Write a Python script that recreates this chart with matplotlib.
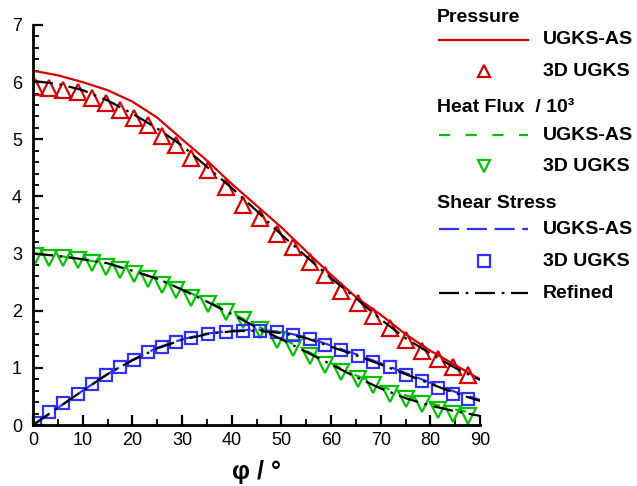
import numpy as np
import matplotlib
matplotlib.use('Agg')
import matplotlib.pyplot as plt
from matplotlib.lines import Line2D

plt.rcParams['font.family'] = ['Liberation Sans', 'DejaVu Sans']

# Marker positions (deg) of the 3D UGKS data
phi_pts = [0.4, 3.3, 6.1, 9.0, 11.8, 14.6, 17.5, 20.3, 23.1, 25.9, 28.7, 31.9, 35.3, 38.9,
           42.2, 45.7, 49.1, 52.4, 55.8, 58.8, 62.1, 65.5, 68.5, 71.9, 75.2, 78.3, 81.6, 84.6, 87.6]
p_ugks = [5.92, 5.89, 5.86, 5.82, 5.73, 5.64, 5.51, 5.38, 5.25, 5.06, 4.90, 4.67, 4.46, 4.17,
          3.85, 3.63, 3.35, 3.12, 2.86, 2.63, 2.35, 2.13, 1.91, 1.69, 1.49, 1.30, 1.15, 1.01, 0.88]
q_ugks = [2.95, 2.93, 2.92, 2.88, 2.83, 2.77, 2.71, 2.64, 2.55, 2.45, 2.36, 2.22, 2.11, 1.97,
          1.84, 1.66, 1.49, 1.34, 1.20, 1.05, 0.93, 0.80, 0.70, 0.55, 0.45, 0.36, 0.27, 0.20, 0.16]
s_ugks = [0.03, 0.22, 0.38, 0.55, 0.71, 0.88, 1.01, 1.14, 1.27, 1.37, 1.46, 1.52, 1.60, 1.63,
          1.65, 1.65, 1.63, 1.58, 1.51, 1.40, 1.31, 1.21, 1.10, 1.01, 0.88, 0.77, 0.65, 0.54, 0.45]

# Line data (UGKS-AS and refined)
phi_line = [0, 5, 10, 15, 20, 25, 30, 35, 40, 45, 50, 55, 60, 65, 70, 75, 80, 85, 90]
p_as = [6.20, 6.12, 6.00, 5.86, 5.66, 5.38, 5.00, 4.63, 4.22, 3.84, 3.46, 3.04, 2.63, 2.24,
        1.93, 1.59, 1.30, 1.05, 0.80]
q_as = [3.00, 2.96, 2.90, 2.82, 2.70, 2.56, 2.38, 2.17, 1.96, 1.74, 1.52, 1.30, 1.08, 0.87,
        0.68, 0.52, 0.38, 0.27, 0.19]
s_as = [0.00, 0.30, 0.60, 0.89, 1.14, 1.35, 1.50, 1.60, 1.65, 1.67, 1.63, 1.54, 1.39, 1.24,
        1.08, 0.91, 0.74, 0.58, 0.44]
p_ref = [6.02, 5.97, 5.86, 5.68, 5.45, 5.19, 4.89, 4.52, 4.15, 3.75, 3.33, 2.95, 2.57, 2.22,
         1.85, 1.52, 1.25, 1.00, 0.79]
q_ref = [3.00, 2.96, 2.90, 2.83, 2.70, 2.56, 2.37, 2.16, 1.94, 1.71, 1.50, 1.28, 1.06, 0.84,
         0.64, 0.47, 0.34, 0.24, 0.16]
s_ref = [0.00, 0.30, 0.60, 0.89, 1.13, 1.34, 1.49, 1.59, 1.64, 1.65, 1.61, 1.52, 1.37, 1.22,
         1.06, 0.89, 0.72, 0.56, 0.42]

red = '#d40000'
green = '#00c000'
blue = '#3030ff'

ls_green = (0, (5, 7))
ls_blue = (0, (9, 3.5))
ls_black = (0, (9, 3, 1.2, 3))

fig = plt.figure(figsize=(6.37, 4.86), dpi=100)
ax = fig.add_axes([33/637, 1-425/486, 447/637, 400/486])

lw = 1.6
ax.plot(phi_line, p_as, c=red, lw=lw)
ax.plot(phi_line, q_as, c=green, lw=lw, ls=ls_green)
ax.plot(phi_line, s_as, c=blue, lw=lw, ls=ls_blue)
ax.plot(phi_pts, p_ugks, ls='none', marker='^', ms=11, mfc='none', mec=red, mew=1.6)
ax.plot(phi_pts, q_ugks, ls='none', marker='v', ms=11, mfc='none', mec=green, mew=1.6)
ax.plot(phi_pts, s_ugks, ls='none', marker='s', ms=9, mfc='none', mec=blue, mew=1.6)
for yv in (p_ref, q_ref, s_ref):
    ax.plot(phi_line, yv, c='k', lw=lw, ls=ls_black)

ax.set_xlim(0, 90)
ax.set_ylim(0, 7)
ax.set_xticks(np.arange(0, 91, 10))
ax.set_xticks(np.arange(0, 91, 5), minor=True)
ax.set_yticks(np.arange(0, 8, 1))
ax.set_yticks(np.arange(0, 7.01, 0.2), minor=True)
ax.spines['top'].set_visible(False)
ax.spines['right'].set_visible(False)
for s in ('left', 'bottom'):
    ax.spines[s].set_linewidth(2)
ax.tick_params(which='major', direction='in', length=7, width=1.6, labelsize=13)
ax.tick_params(which='minor', direction='in', length=4, width=1.3)
ax.tick_params(axis='y', which='major', pad=8)
ax.tick_params(axis='x', which='major', pad=5)
ax.set_xlabel('φ / °', fontsize=18, fontweight='bold', labelpad=8)

# legend panel
lax = fig.add_axes([0, 0, 1, 1])
lax.set_xlim(0, 637)
lax.set_ylim(486, 0)
lax.axis('off')
x0, x1, xm, xt = 439, 528, 484, 543
fs = 14
lax.text(437, 18, 'Pressure', fontsize=fs, fontweight='bold', va='center')
lax.add_line(Line2D([x0, x1], [40, 40], c=red, lw=lw))
lax.text(xt, 40, 'UGKS-AS', fontsize=fs, fontweight='bold', va='center')
lax.plot([xm], [71], marker='^', ms=9, mfc='none', mec=red, mew=1.6)
lax.text(xt, 71, '3D UGKS', fontsize=fs, fontweight='bold', va='center')
lax.text(437, 107, 'Heat Flux  / 10³', fontsize=fs, fontweight='bold', va='center')
lax.add_line(Line2D([x0, x1], [135, 135], c=green, lw=lw, ls=ls_green))
lax.text(xt, 135, 'UGKS-AS', fontsize=fs, fontweight='bold', va='center')
lax.plot([xm], [166], marker='v', ms=9, mfc='none', mec=green, mew=1.6)
lax.text(xt, 166, '3D UGKS', fontsize=fs, fontweight='bold', va='center')
lax.text(437, 203, 'Shear Stress', fontsize=fs, fontweight='bold', va='center')
lax.add_line(Line2D([x0, x1], [229, 229], c=blue, lw=lw, ls=ls_blue))
lax.text(xt, 229, 'UGKS-AS', fontsize=fs, fontweight='bold', va='center')
lax.plot([xm], [261], marker='s', ms=8, mfc='none', mec=blue, mew=1.6)
lax.text(xt, 261, '3D UGKS', fontsize=fs, fontweight='bold', va='center')
lax.add_line(Line2D([x0, x1], [293, 293], c='k', lw=lw, ls=ls_black))
lax.text(xt, 293, 'Refined', fontsize=fs, fontweight='bold', va='center')

fig.savefig('out.png', dpi=100)
